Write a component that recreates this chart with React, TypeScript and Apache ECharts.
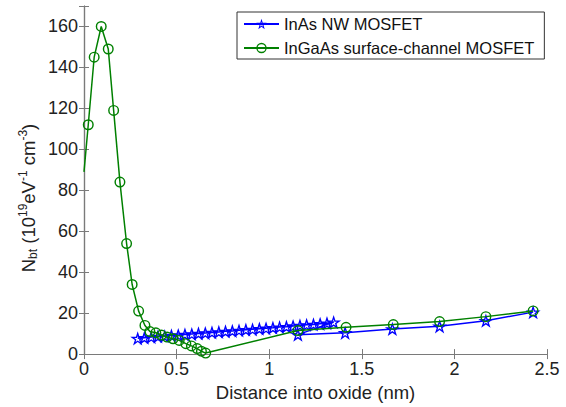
import React, { useEffect, useRef } from "react";
import * as echarts from "echarts";

const blueX = [0.29, 0.326, 0.363, 0.399, 0.436, 0.472, 0.509, 0.545, 0.582, 0.618, 0.655, 0.691, 0.728, 0.764, 0.801, 0.837, 0.874, 0.91, 0.947, 0.983, 1.02, 1.056, 1.093, 1.129, 1.166, 1.202, 1.239, 1.275, 1.312, 1.348, 1.155, 1.41, 1.665, 1.92, 2.17, 2.425];
const blueY = [7.7, 8.0, 8.3, 8.6, 8.8, 9.1, 9.3, 9.6, 9.8, 10.1, 10.3, 10.6, 10.8, 11.1, 11.3, 11.6, 11.9, 12.1, 12.4, 12.6, 12.9, 13.2, 13.4, 13.7, 14.0, 14.3, 14.5, 14.8, 15.1, 15.6, 9.5, 10.4, 12.3, 13.6, 16.3, 20.5];

const greenX = [0, 0.023, 0.055, 0.093, 0.131, 0.16, 0.194, 0.23, 0.26, 0.295, 0.329, 0.356, 0.388, 0.418, 0.449, 0.481, 0.514, 0.55, 0.58, 0.611, 0.634, 0.657, 1.155, 1.415, 1.67, 1.92, 2.17, 2.425];
const greenY = [89, 112, 145, 160, 149, 119, 84, 54, 34, 21, 14, 11, 10.4, 9.3, 8.3, 7.5, 6.7, 5.1, 4.0, 2.7, 1.4, 0.5, 11.5, 13.1, 14.4, 15.9, 18.3, 21.1];

const seriesNames = ["InAs NW MOSFET", "InGaAs surface-channel MOSFET"];
const xTickLabels = ["0", "0.5", "1", "1.5", "2", "2.5"];

// hollow five-point star (outer star with a reversed inner star as hole)
const STAR =
  "path://M0,-10L2.245,-3.09L9.511,-3.09L3.633,1.18L5.878,8.09L0,3.82L-5.878,8.09L-3.633,1.18L-9.511,-3.09L-2.245,-3.09Z" +
  "M0,-4.5L-1.01,-1.391L-4.28,-1.391L-1.635,0.531L-2.645,3.641L0,1.719L2.645,3.641L1.635,0.531L4.28,-1.391L1.01,-1.391Z";
// hollow circle (ring)
const RING =
  "path://M0,-10A10,10 0 1,1 0,10A10,10 0 1,1 0,-10Z" +
  "M0,-7.4A7.4,7.4 0 1,0 0,7.4A7.4,7.4 0 1,0 0,-7.4Z";

const FONT = "'Liberation Sans', Arial, sans-serif";
const AXIS_COLOR = "#7a7a7a";

export default function App() {
  const ref = useRef<HTMLDivElement>(null);
  useEffect(() => {
    document.body.style.margin = "0";
    if (!ref.current) return;
    const chart = echarts.init(ref.current, undefined, { renderer: "svg" });
    const blueData = blueX.map((x, i) => [x, blueY[i]]);
    const greenData = greenX.map((x, i) =>
      i === 0 ? { value: [x, greenY[i]], symbol: "none" } : [x, greenY[i]]
    );
    const tickCommon = {
      show: true,
      inside: true,
      length: 5,
      lineStyle: { color: AXIS_COLOR, width: 1 },
    };
    chart.setOption({
      animation: false,
      backgroundColor: "#fff",
      textStyle: { fontFamily: FONT },
      grid: { left: 84, right: 19, top: 6, bottom: 48, containLabel: false },
      xAxis: [
        {
          type: "value",
          min: 0,
          max: 2.5,
          interval: 0.5,
          axisLine: { show: true, lineStyle: { color: AXIS_COLOR, width: 1.2 } },
          axisTick: tickCommon,
          splitLine: { show: false },
          axisLabel: {
            color: "#222",
            fontSize: 18,
            fontFamily: FONT,
            margin: 6,
            formatter: (v: number) => xTickLabels[Math.round(v / 0.5)] ?? String(v),
          },
          name: "Distance into oxide (nm)",
          nameLocation: "middle",
          nameGap: 24,
          nameTextStyle: { color: "#222", fontSize: 18.5, fontFamily: FONT },
        },
        {
          type: "value",
          position: "top",
          min: 0,
          max: 2.5,
          interval: 0.5,
          axisLine: { show: true, lineStyle: { color: AXIS_COLOR, width: 1.2 } },
          axisTick: tickCommon,
          axisLabel: { show: false },
          splitLine: { show: false },
        },
      ],
      yAxis: [
        {
          type: "value",
          min: 0,
          max: 170,
          interval: 20,
          axisLine: { show: true, lineStyle: { color: AXIS_COLOR, width: 1.2 } },
          axisTick: tickCommon,
          splitLine: { show: false },
          axisLabel: {
            color: "#222",
            fontSize: 18,
            fontFamily: FONT,
            margin: 6,
            formatter: (v: number) => (v > 160 ? "" : String(v)),
          },
        },
        {
          type: "value",
          position: "right",
          min: 0,
          max: 170,
          interval: 20,
          axisLine: { show: true, lineStyle: { color: AXIS_COLOR, width: 1.2 } },
          axisTick: tickCommon,
          axisLabel: { show: false },
          splitLine: { show: false },
        },
      ],
      legend: {
        show: true,
        orient: "vertical",
        left: 237,
        top: 12,
        padding: [2, 10, 1, 6],
        itemWidth: 35,
        itemHeight: 13,
        itemGap: 4,
        borderColor: "#333",
        borderWidth: 1,
        backgroundColor: "#fff",
        textStyle: { color: "#111", fontSize: 16.5, lineHeight: 20, fontFamily: FONT },
        data: seriesNames,
      },
      graphic: [
        {
          type: "text",
          x: 28,
          y: 198,
          rotation: Math.PI / 2,
          style: {
            text: "{n|N}{sub|bt}{n| (10}{sup|19}{n|eV}{sup|-1}{n| cm}{sup|-3}{n|)}",
            align: "center",
            verticalAlign: "middle",
            fill: "#222",
            fontFamily: FONT,
            rich: {
              n: { fontSize: 18.5, fontFamily: FONT, fill: "#222", lineHeight: 30, verticalAlign: "middle" },
              sub: { fontSize: 12, fontFamily: FONT, fill: "#222", lineHeight: 30, verticalAlign: "bottom", padding: [0, 0, 4, 0] },
              sup: { fontSize: 12, fontFamily: FONT, fill: "#222", lineHeight: 30, verticalAlign: "top", padding: [4, 0, 0, 0] },
            },
          },
        },
      ],
      series: [
        {
          name: seriesNames[0],
          type: "line",
          data: blueData,
          color: "#0000ff",
          symbol: STAR,
          symbolSize: 15,
          symbolKeepAspect: true,
          showAllSymbol: true,
          lineStyle: { color: "#0000ff", width: 1.5 },
          itemStyle: { color: "#0000ff", borderWidth: 0 },
          z: 3,
        },
        {
          name: seriesNames[1],
          type: "line",
          data: greenData,
          color: "#008000",
          symbol: RING,
          symbolSize: 11,
          symbolKeepAspect: true,
          showAllSymbol: true,
          lineStyle: { color: "#008000", width: 1.5 },
          itemStyle: { color: "#008000", borderWidth: 0 },
          z: 4,
        },
      ],
    });
    return () => chart.dispose();
  }, []);
  return <div ref={ref} style={{ width: 566, height: 407 }} />;
}
